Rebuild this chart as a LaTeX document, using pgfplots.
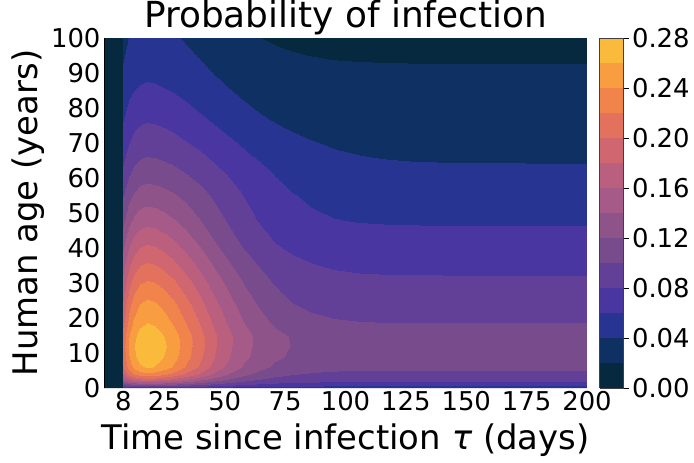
\documentclass[border=0pt]{standalone}
\usepackage{fontspec}
\setmainfont{DejaVu Sans}
\usepackage{pgfplots}
\pgfplotsset{compat=1.18}
\pgfplotsset{colormap={thermalD}{
 rgb255=(6,41,64) rgb255=(15,48,99) rgb255=(40,52,145) rgb255=(73,54,160)
 rgb255=(98,64,151) rgb255=(120,75,141) rgb255=(142,84,138) rgb255=(165,90,135)
 rgb255=(187,95,127) rgb255=(208,102,112) rgb255=(226,113,93) rgb255=(240,132,75)
 rgb255=(248,158,64) rgb255=(250,186,60)}}
\begin{document}
\begin{tikzpicture}
\begin{axis}[name=main,
 view={0}{90}, scale only axis, width=483bp, height=350bp,
 xmin=0,xmax=200,ymin=0,ymax=100,
 xtick={8,25,50,75,100,125,150,175,200},
 ytick={0,10,20,30,40,50,60,70,80,90,100},
 major tick length=0pt,
 /pgf/number format/assume math mode=true,
 ticklabel style={font=\fontsize{26}{30}\selectfont},
 xlabel={Time since infection {\itshape τ} (days)},
 ylabel={Human age (years)},
 label style={font=\fontsize{34}{40}\selectfont},
 xlabel style={yshift=-6bp},
 title={Probability of infection},
 title style={font=\fontsize{36}{42}\selectfont, at={(0.5,1)}, anchor=base, yshift=5bp},
 colormap name=thermalD, colormap access=piecewise constant,
 point meta min=0, point meta max=0.28,
 colorbar,
 colorbar style={at={(parent axis.north east)}, anchor=north west, xshift=4bp, width=24bp,
   ytick={0,0.04,0.08,0.12,0.16,0.2,0.24,0.28}, ytick pos=right,
   yticklabel style={font=\fontsize{26}{30}\selectfont, /pgf/number format/assume math mode=true,
     /pgf/number format/fixed, /pgf/number format/fixed zerofill, /pgf/number format/precision=2},
   major tick length=5bp, tick align=outside, tick style={black, line width=0.6pt},
   axis line style={black!75, line width=0.6pt}},
 axis line style={draw=none},
]
\addplot3[surf, shader=interp, mesh/rows=22, mesh/cols=27] coordinates {
(0,0,0) (7.9,0,0) (8,0,0.054) (9,0,0.0555) (10.5,0,0.057) (12.5,0,0.0585) (15,0,0.0596) (18,0,0.0599) (21,0,0.0597) (25,0,0.0588) (29,0,0.0576) (34,0,0.0558) (40,0,0.0535) (46,0,0.0514) (52,0,0.0496) (58,0,0.0482) (64,0,0.0471) (71,0,0.0462) (78,0,0.0457) (86,0,0.0453) (95,0,0.0451) (105,0,0.045) (117,0,0.045) (130,0,0.045) (150,0,0.045) (175,0,0.045) (200,0,0.045)
(0,0.8,0) (7.9,0.8,0) (8,0.8,0.0962) (9,0.8,0.1012) (10.5,0.8,0.1061) (12.5,0.8,0.1111) (15,0.8,0.1145) (18,0.8,0.116) (21,0.8,0.1151) (25,0.8,0.1121) (29,0.8,0.1081) (34,0.8,0.1022) (40,0.8,0.0947) (46,0.8,0.0877) (52,0.8,0.0817) (58,0.8,0.077) (64,0.8,0.0735) (71,0.8,0.0706) (78,0.8,0.0688) (86,0.8,0.0677) (95,0.8,0.067) (105,0.8,0.0667) (117,0.8,0.0666) (130,0.8,0.0666) (150,0.8,0.0666) (175,0.8,0.0666) (200,0.8,0.0666)
(0,1.6,0) (7.9,1.6,0) (8,1.6,0.1274) (9,1.6,0.1356) (10.5,1.6,0.1437) (12.5,1.6,0.1519) (15,1.6,0.1576) (18,1.6,0.1598) (21,1.6,0.1585) (25,1.6,0.1536) (29,1.6,0.147) (34,1.6,0.1372) (40,1.6,0.1249) (46,1.6,0.1134) (52,1.6,0.1035) (58,1.6,0.0957) (64,1.6,0.0899) (71,1.6,0.0852) (78,1.6,0.0823) (86,1.6,0.0804) (95,1.6,0.0793) (105,1.6,0.0788) (117,1.6,0.0787) (130,1.6,0.0786) (150,1.6,0.0786) (175,1.6,0.0786) (200,1.6,0.0786)
(0,2.5,0) (7.9,2.5,0) (8,2.5,0.1508) (9,2.5,0.1616) (10.5,2.5,0.1724) (12.5,2.5,0.1832) (15,2.5,0.1908) (18,2.5,0.194) (21,2.5,0.192) (25,2.5,0.1855) (29,2.5,0.1767) (34,2.5,0.1638) (40,2.5,0.1475) (46,2.5,0.1321) (52,2.5,0.119) (58,2.5,0.1087) (64,2.5,0.101) (71,2.5,0.0947) (78,2.5,0.0909) (86,2.5,0.0883) (95,2.5,0.087) (105,2.5,0.0863) (117,2.5,0.0861) (130,2.5,0.086) (150,2.5,0.086) (175,2.5,0.086) (200,2.5,0.086)
(0,4,0) (7.9,4,0) (8,4,0.179) (9,4,0.193) (10.5,4,0.207) (12.5,4,0.221) (15,4,0.2308) (18,4,0.235) (21,4,0.2323) (25,4,0.2239) (29,4,0.2126) (34,4,0.1958) (40,4,0.1747) (46,4,0.1548) (52,4,0.1378) (58,4,0.1244) (64,4,0.1145) (71,4,0.1063) (78,4,0.1013) (86,4,0.098) (95,4,0.0963) (105,4,0.0954) (117,4,0.0951) (130,4,0.095) (150,4,0.095) (175,4,0.095) (200,4,0.095)
(0,6,0) (7.9,6,0) (8,6,0.1988) (9,6,0.2146) (10.5,6,0.2304) (12.5,6,0.2462) (15,6,0.2573) (18,6,0.262) (21,6,0.259) (25,6,0.2495) (29,6,0.2367) (34,6,0.2178) (40,6,0.1939) (46,6,0.1715) (52,6,0.1523) (58,6,0.1372) (64,6,0.126) (71,6,0.1168) (78,6,0.1111) (86,6,0.1074) (95,6,0.1054) (105,6,0.1045) (117,6,0.1042) (130,6,0.104) (150,6,0.104) (175,6,0.104) (200,6,0.104)
(0,9,0) (7.9,9,0) (8,9,0.2072) (9,9,0.2234) (10.5,9,0.2396) (12.5,9,0.2558) (15,9,0.2671) (18,9,0.272) (21,9,0.2689) (25,9,0.2592) (29,9,0.2461) (34,9,0.2266) (40,9,0.2022) (46,9,0.1792) (52,9,0.1596) (58,9,0.144) (64,9,0.1325) (71,9,0.1231) (78,9,0.1173) (86,9,0.1135) (95,9,0.1115) (105,9,0.1105) (117,9,0.1102) (130,9,0.110) (150,9,0.110) (175,9,0.110) (200,9,0.110)
(0,12,0) (7.9,12,0) (8,12,0.2104) (9,12,0.2268) (10.5,12,0.2432) (12.5,12,0.2596) (15,12,0.2711) (18,12,0.276) (21,12,0.2729) (25,12,0.263) (29,12,0.2498) (34,12,0.2301) (40,12,0.2053) (46,12,0.182) (52,12,0.1622) (58,12,0.1464) (64,12,0.1348) (71,12,0.1253) (78,12,0.1194) (86,12,0.1155) (95,12,0.1135) (105,12,0.1125) (117,12,0.1122) (130,12,0.112) (150,12,0.112) (175,12,0.112) (200,12,0.112)
(0,15,0) (7.9,15,0) (8,15,0.2072) (9,15,0.2234) (10.5,15,0.2396) (12.5,15,0.2558) (15,15,0.2671) (18,15,0.272) (21,15,0.2689) (25,15,0.2599) (29,15,0.2472) (34,15,0.2287) (40,15,0.2049) (46,15,0.1824) (52,15,0.163) (58,15,0.1471) (64,15,0.1349) (71,15,0.1251) (78,15,0.1186) (86,15,0.1144) (95,15,0.1118) (105,15,0.1107) (117,15,0.1102) (130,15,0.110) (150,15,0.110) (175,15,0.110) (200,15,0.110)
(0,19,0) (7.9,19,0) (8,19,0.1955) (9,19,0.2115) (10.5,19,0.2275) (12.5,19,0.2435) (15,19,0.2547) (18,19,0.2595) (21,19,0.2566) (25,19,0.2483) (29,19,0.2365) (34,19,0.2189) (40,19,0.1965) (46,19,0.1747) (52,19,0.1555) (58,19,0.1395) (64,19,0.127) (71,19,0.1166) (78,19,0.1096) (86,19,0.1049) (95,19,0.1019) (105,19,0.1004) (117,19,0.0997) (130,19,0.0996) (150,19,0.0995) (175,19,0.0995) (200,19,0.0995)
(0,24,0) (7.9,24,0) (8,24,0.183) (9,24,0.1985) (10.5,24,0.214) (12.5,24,0.2295) (15,24,0.2404) (18,24,0.245) (21,24,0.2422) (25,24,0.2345) (29,24,0.2231) (34,24,0.2066) (40,24,0.185) (46,24,0.1642) (52,24,0.1456) (58,24,0.1301) (64,24,0.1181) (71,24,0.1075) (78,24,0.1005) (86,24,0.0956) (95,24,0.0926) (105,24,0.091) (117,24,0.0903) (130,24,0.0901) (150,24,0.090) (175,24,0.090) (200,24,0.090)
(0,30,0) (7.9,30,0) (8,30,0.167) (9,30,0.181) (10.5,30,0.195) (12.5,30,0.209) (15,30,0.2188) (18,30,0.223) (21,30,0.2205) (25,30,0.2135) (29,30,0.2033) (34,30,0.1883) (40,30,0.1688) (46,30,0.1501) (52,30,0.1333) (58,30,0.1193) (64,30,0.1083) (71,30,0.0988) (78,30,0.0925) (86,30,0.088) (95,30,0.0854) (105,30,0.0839) (117,30,0.0833) (130,30,0.0831) (150,30,0.083) (175,30,0.083) (200,30,0.083)
(0,36,0) (7.9,36,0) (8,36,0.1497) (9,36,0.1622) (10.5,36,0.1746) (12.5,36,0.1871) (15,36,0.1958) (18,36,0.1995) (21,36,0.1973) (25,36,0.191) (29,36,0.1819) (34,36,0.1686) (40,36,0.1513) (46,36,0.1346) (52,36,0.1197) (58,36,0.1072) (64,36,0.0975) (71,36,0.0891) (78,36,0.0835) (86,36,0.0795) (95,36,0.0771) (105,36,0.0758) (117,36,0.0752) (130,36,0.0751) (150,36,0.075) (175,36,0.075) (200,36,0.075)
(0,42,0) (7.9,42,0) (8,42,0.132) (9,42,0.143) (10.5,42,0.154) (12.5,42,0.165) (15,42,0.1727) (18,42,0.176) (21,42,0.174) (25,42,0.1687) (29,42,0.1609) (34,42,0.1493) (40,42,0.1343) (46,42,0.1196) (52,42,0.1065) (58,42,0.0955) (64,42,0.0868) (71,42,0.0792) (78,42,0.074) (86,42,0.0703) (95,42,0.0681) (105,42,0.0668) (117,42,0.0663) (130,42,0.0661) (150,42,0.066) (175,42,0.066) (200,42,0.066)
(0,48,0) (7.9,48,0) (8,48,0.115) (9,48,0.1245) (10.5,48,0.134) (12.5,48,0.1435) (15,48,0.1502) (18,48,0.153) (21,48,0.1514) (25,48,0.1472) (29,48,0.1411) (34,48,0.1318) (40,48,0.1196) (46,48,0.1075) (52,48,0.0964) (58,48,0.0868) (64,48,0.0789) (71,48,0.0719) (78,48,0.0668) (86,48,0.063) (95,48,0.0606) (105,48,0.0591) (117,48,0.0584) (130,48,0.0581) (150,48,0.058) (175,48,0.058) (200,48,0.058)
(0,55,0) (7.9,55,0) (8,55,0.098) (9,55,0.106) (10.5,55,0.114) (12.5,55,0.122) (15,55,0.1276) (18,55,0.1298) (21,55,0.1288) (25,55,0.1258) (29,55,0.1215) (34,55,0.1148) (40,55,0.1057) (46,55,0.0964) (52,55,0.0875) (58,55,0.0794) (64,55,0.0726) (71,55,0.066) (78,55,0.0609) (86,55,0.0568) (95,55,0.0538) (105,55,0.0519) (117,55,0.0508) (130,55,0.0503) (150,55,0.050) (175,55,0.050) (200,55,0.050)
(0,62,0) (7.9,62,0) (8,62,0.0828) (9,62,0.0896) (10.5,62,0.0964) (12.5,62,0.1032) (15,62,0.108) (18,62,0.1098) (21,62,0.109) (25,62,0.1068) (29,62,0.1035) (34,62,0.0984) (40,62,0.0914) (46,62,0.084) (52,62,0.0767) (58,62,0.0701) (64,62,0.0642) (71,62,0.0584) (78,62,0.0537) (86,62,0.0497) (95,62,0.0466) (105,62,0.0445) (117,62,0.0431) (130,62,0.0424) (150,62,0.0421) (175,62,0.042) (200,62,0.042)
(0,70,0) (7.9,70,0) (8,70,0.0686) (9,70,0.0742) (10.5,70,0.0798) (12.5,70,0.0854) (15,70,0.0893) (18,70,0.091) (21,70,0.0902) (25,70,0.0883) (29,70,0.0855) (34,70,0.0811) (40,70,0.0752) (46,70,0.069) (52,70,0.0629) (58,70,0.0574) (64,70,0.0525) (71,70,0.0478) (78,70,0.044) (86,70,0.0409) (95,70,0.0385) (105,70,0.0368) (117,70,0.0358) (130,70,0.0353) (150,70,0.0351) (175,70,0.035) (200,70,0.035)
(0,78,0) (7.9,78,0) (8,78,0.0572) (9,78,0.0619) (10.5,78,0.0666) (12.5,78,0.0713) (15,78,0.0746) (18,78,0.076) (21,78,0.0752) (25,78,0.0734) (29,78,0.0706) (34,78,0.0663) (40,78,0.0606) (46,78,0.0549) (52,78,0.0495) (58,78,0.0448) (64,78,0.0408) (71,78,0.0371) (78,78,0.0344) (86,78,0.0322) (95,78,0.0307) (105,78,0.0298) (117,78,0.0293) (130,78,0.0291) (150,78,0.029) (175,78,0.029) (200,78,0.029)
(0,86,0) (7.9,86,0) (8,86,0.0468) (9,86,0.0506) (10.5,86,0.0544) (12.5,86,0.0582) (15,86,0.0609) (18,86,0.062) (21,86,0.0614) (25,86,0.0597) (29,86,0.0573) (34,86,0.0535) (40,86,0.0486) (46,86,0.0437) (52,86,0.0393) (58,86,0.0354) (64,86,0.0323) (71,86,0.0295) (78,86,0.0275) (86,86,0.026) (95,86,0.025) (105,86,0.0244) (117,86,0.0241) (130,86,0.024) (150,86,0.024) (175,86,0.024) (200,86,0.024)
(0,93,0) (7.9,93,0) (8,93,0.0397) (9,93,0.043) (10.5,93,0.0464) (12.5,93,0.0497) (15,93,0.052) (18,93,0.053) (21,93,0.0524) (25,93,0.0508) (29,93,0.0484) (34,93,0.0449) (40,93,0.0404) (46,93,0.0359) (52,93,0.032) (58,93,0.0286) (64,93,0.026) (71,93,0.0238) (78,93,0.0222) (86,93,0.0211) (95,93,0.0204) (105,93,0.0201) (117,93,0.0199) (130,93,0.0198) (150,93,0.0198) (175,93,0.0198) (200,93,0.0198)
(0,100,0) (7.9,100,0) (8,100,0.0346) (9,100,0.0377) (10.5,100,0.0408) (12.5,100,0.0439) (15,100,0.0461) (18,100,0.047) (21,100,0.0464) (25,100,0.0446) (29,100,0.042) (34,100,0.0383) (40,100,0.0336) (46,100,0.0292) (52,100,0.0255) (58,100,0.0225) (64,100,0.0203) (71,100,0.0185) (78,100,0.0174) (86,100,0.0167) (95,100,0.0163) (105,100,0.0161) (117,100,0.016) (130,100,0.016) (150,100,0.016) (175,100,0.016) (200,100,0.016)
};
\draw[black, line width=0.8pt] (rel axis cs:0,1,0) -- (rel axis cs:0,0,0) -- (rel axis cs:1,0,0);
\end{axis}
\pgfresetboundingbox
\path[use as bounding box] ([xshift=-104bp,yshift=-75bp]main.south west) rectangle ([xshift=107bp,yshift=38bp]main.north east);
\end{tikzpicture}
\end{document}
